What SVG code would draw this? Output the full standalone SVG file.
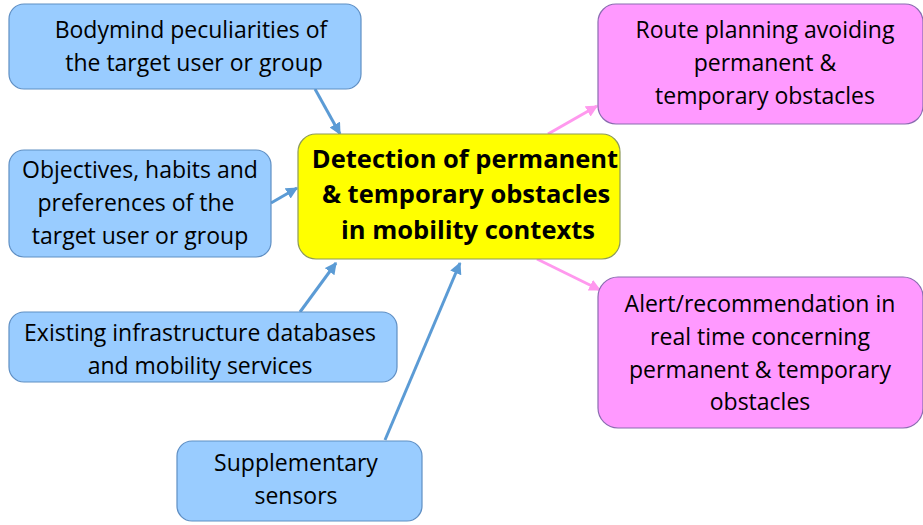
<svg xmlns="http://www.w3.org/2000/svg" width="923" height="525" viewBox="0 0 923 525">
<defs>
<style>
.blue{fill:#99ccff;stroke:#5f8fc4;stroke-width:1.2}
.pink{fill:#ff99ff;stroke:#8a6cb0;stroke-width:1.2}
.yel{fill:#ffff00;stroke:#8c9a5a;stroke-width:1.2}
.t{font-family:"Open Sans","Liberation Sans",Arial,sans-serif;font-size:23px;fill:#000;text-anchor:middle}
.b{font-family:"Open Sans","Liberation Sans",Arial,sans-serif;font-size:25.5px;font-weight:bold;fill:#000;text-anchor:middle}
.ab{stroke:#5b9bd5;stroke-width:3;fill:none}
.ap{stroke:#ff99ee;stroke-width:3;fill:none}
</style>
<marker id="mb" viewBox="0 0 10 10" refX="9" refY="5" markerWidth="4" markerHeight="4" orient="auto" markerUnits="strokeWidth"><path d="M0,0 L10,5 L0,10 z" fill="#5b9bd5"/></marker>
<marker id="mp" viewBox="0 0 10 10" refX="9" refY="5" markerWidth="4" markerHeight="4" orient="auto" markerUnits="strokeWidth"><path d="M0,0 L10,5 L0,10 z" fill="#ff99ee"/></marker>
</defs>
<rect width="923" height="525" fill="#fff"/>
<g id="connectors">
<line class="ab" x1="315" y1="89" x2="340" y2="134" marker-end="url(#mb)"/>
<line class="ab" x1="271" y1="203" x2="297" y2="188" marker-end="url(#mb)"/>
<line class="ab" x1="300" y1="312" x2="336" y2="263" marker-end="url(#mb)"/>
<line class="ab" x1="385" y1="440" x2="460" y2="263" marker-end="url(#mb)"/>
<line class="ap" x1="548" y1="134" x2="597" y2="106" marker-end="url(#mp)"/>
<line class="ap" x1="537" y1="259" x2="600" y2="290" marker-end="url(#mp)"/>
</g>
<g id="bodymind">
<rect class="blue" x="9" y="4" width="352" height="85" rx="15"/>
<text class="t" x="191" y="38">Bodymind peculiarities of</text>
<text class="t" x="194" y="71">the target user or group</text>
</g>
<g id="objectives">
<rect class="blue" x="9" y="150" width="262" height="107" rx="15"/>
<text class="t" x="140" y="178">Objectives, habits and</text>
<text class="t" x="136" y="211">preferences of the</text>
<text class="t" x="140" y="244">target user or group</text>
</g>
<g id="existing">
<rect class="blue" x="9" y="312" width="388" height="70" rx="15"/>
<text class="t" x="200" y="341">Existing infrastructure databases</text>
<text class="t" x="200" y="374">and mobility services</text>
</g>
<g id="supplementary">
<rect class="blue" x="177" y="441" width="245" height="80" rx="15"/>
<text class="t" x="296" y="471">Supplementary</text>
<text class="t" x="296" y="504">sensors</text>
</g>
<g id="detection">
<rect class="yel" x="298" y="134" width="322" height="125" rx="18"/>
<text class="b" x="465" y="168">Detection of permanent</text>
<text class="b" x="466" y="203">&amp; temporary obstacles</text>
<text class="b" x="468" y="239">in mobility contexts</text>
</g>
<g id="route">
<rect class="pink" x="598" y="4" width="325" height="120" rx="18"/>
<text class="t" x="765" y="38">Route planning avoiding</text>
<text class="t" x="765" y="71">permanent &amp;</text>
<text class="t" x="765" y="104">temporary obstacles</text>
</g>
<g id="alert">
<rect class="pink" x="598" y="277" width="325" height="151" rx="20"/>
<text class="t" x="760" y="312">Alert/recommendation in</text>
<text class="t" x="760" y="345">real time concerning</text>
<text class="t" x="760" y="378">permanent &amp; temporary</text>
<text class="t" x="760" y="410">obstacles</text>
</g>
</svg>
